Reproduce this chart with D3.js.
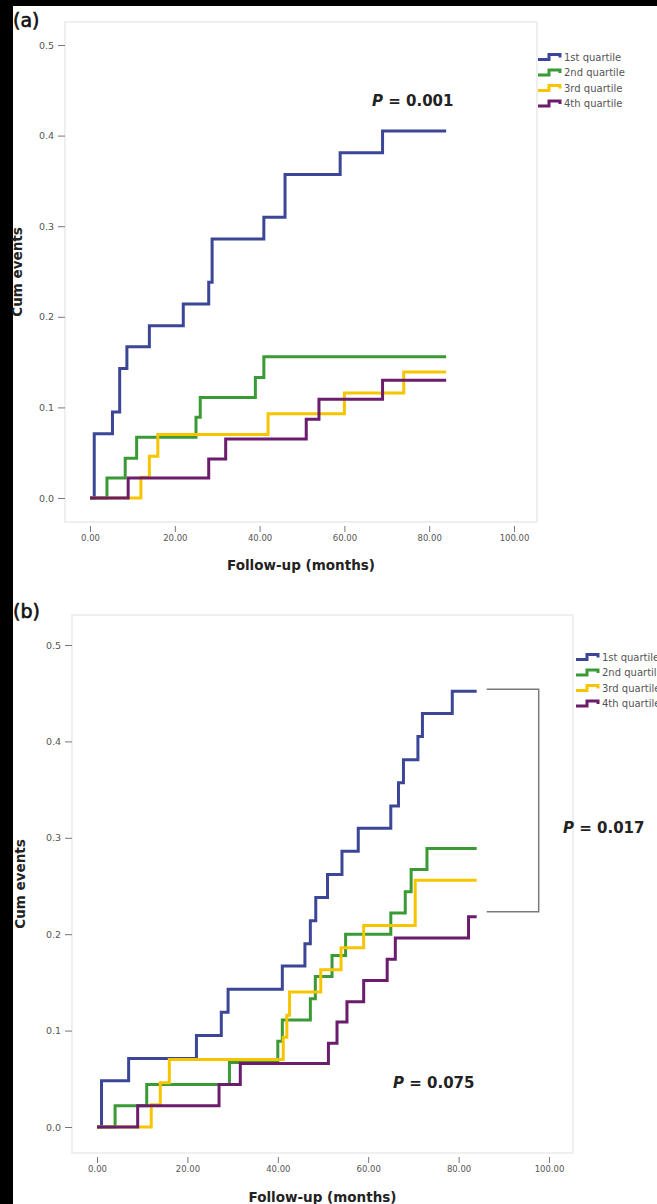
<!DOCTYPE html>
<html>
<head>
<meta charset="utf-8">
<script src="https://cdn.jsdelivr.net/npm/d3@7"></script>
<style>
  html, body { margin: 0; padding: 0; background: #000; }
  svg { display: block; }
  text { font-family: "DejaVu Sans", Verdana, sans-serif; }
</style>
</head>
<body>
<script>
// cumulative events, [month, value] at each step
var aQ1 = [[0,0],[1,0.071],[5.3,0.095],[7,0.143],[8.7,0.167],[14,0.190],[22,0.214],[28,0.238],[28.8,0.286],[41,0.310],[46,0.357],[59,0.381],[69,0.405],[84,0.405]];
var aQ2 = [[0,0],[4,0.022],[8.3,0.044],[11,0.067],[25,0.089],[26,0.111],[39,0.133],[41,0.156],[84,0.156]];
var aQ3 = [[0,0],[12,0.023],[14,0.046],[16,0.070],[42,0.093],[60,0.116],[74,0.139],[84,0.139]];
var aQ4 = [[0,0],[9,0.022],[28,0.043],[32,0.065],[51,0.087],[54,0.109],[69,0.130],[84,0.130]];

var bQ1 = [[0,0],[1,0.048],[7,0.071],[22,0.095],[27.5,0.119],[29,0.143],[41,0.167],[46,0.190],[47.2,0.214],[48.4,0.238],[51,0.262],[54.2,0.286],[57.8,0.310],[65,0.333],[66.7,0.357],[67.8,0.381],[71,0.405],[72,0.429],[78.6,0.452],[84,0.452]];
var bQ2 = [[0,0],[4,0.022],[11,0.044],[29.3,0.067],[40,0.089],[41,0.111],[47.2,0.133],[48.3,0.156],[52,0.178],[55,0.200],[65,0.222],[68.2,0.244],[69.5,0.267],[73,0.289],[84,0.289]];
var bQ3 = [[0,0],[12,0.023],[14,0.046],[16,0.070],[41.2,0.093],[42,0.116],[42.6,0.140],[49.5,0.163],[54,0.186],[59,0.209],[70.4,0.256],[84,0.256]];
var bQ4 = [[0,0],[9,0.022],[27,0.044],[31.7,0.066],[51.2,0.087],[53.1,0.109],[55.3,0.130],[59,0.152],[64.2,0.174],[66,0.196],[82.2,0.218],[84,0.218]];

var seriesNames = ["1st quartile", "2nd quartile", "3rd quartile", "4th quartile"];
var seriesColors = ["#3b4697", "#3a9a35", "#f6c500", "#6b1c6c"];
var xTicks = [0, 20, 40, 60, 80, 100];
var yTicks = [0, 0.1, 0.2, 0.3, 0.4, 0.5];

var W = 657, H = 1204;

var svg = d3.select("body").append("svg")
    .attr("width", W)
    .attr("height", H);

svg.append("rect").attr("width", W).attr("height", H).attr("fill", "#000");
svg.append("rect").attr("x", 13).attr("y", 6).attr("width", W - 13).attr("height", H - 6).attr("fill", "#fff");

function panel(opt) {
  var g = svg.append("g");
  var x = d3.scaleLinear().domain([0, 100]).range(opt.xr);
  var y = d3.scaleLinear().domain([0, 0.5]).range(opt.yr);

  // faint frame
  g.append("rect")
    .attr("x", opt.frame[0]).attr("y", opt.frame[1])
    .attr("width", opt.frame[2] - opt.frame[0])
    .attr("height", opt.frame[3] - opt.frame[1])
    .attr("fill", "none").attr("stroke", "#efefef").attr("stroke-width", 2);

  // panel letter
  g.append("text")
    .attr("x", 13).attr("y", opt.letterY)
    .attr("font-size", 19).attr("fill", "#111")
    .attr("stroke", "#111").attr("stroke-width", 0.6)
    .text(opt.letter);

  // y axis
  var ya = g.append("g")
    .attr("transform", "translate(" + opt.frame[0] + ",0)")
    .call(d3.axisLeft(y).tickValues(yTicks).tickFormat(d3.format(".1f")).tickSize(7).tickPadding(4));
  ya.select(".domain").remove();
  ya.selectAll("line").attr("stroke", "#777");
  ya.selectAll("text").attr("font-size", 9.5).attr("fill", "#555").attr("font-family", "DejaVu Sans");

  // x axis
  var xa = g.append("g")
    .attr("transform", "translate(0," + (opt.frame[3] + 4) + ")")
    .call(d3.axisBottom(x).tickValues(xTicks).tickFormat(d3.format(".2f")).tickSize(6).tickPadding(3));
  xa.select(".domain").remove();
  xa.selectAll("line").attr("stroke", "#777");
  xa.selectAll("text").attr("font-size", 8.5).attr("fill", "#555").attr("font-family", "DejaVu Sans");

  // axis titles
  var cx = (opt.frame[0] + opt.frame[2]) / 2;
  var cy = (opt.frame[1] + opt.frame[3]) / 2;
  g.append("text")
    .attr("x", cx).attr("y", opt.xTitleY)
    .attr("text-anchor", "middle")
    .attr("font-size", 13.5).attr("font-weight", "bold").attr("fill", "#222")
    .text("Follow-up (months)");
  g.append("text")
    .attr("transform", "translate(" + opt.yTitleX + "," + cy + ") rotate(-90)")
    .attr("text-anchor", "middle")
    .attr("font-size", 13.5).attr("font-weight", "bold").attr("fill", "#222")
    .text("Cum events");

  // step curves
  var line = d3.line()
    .x(function(d) { return x(d[0]); })
    .y(function(d) { return y(d[1]); })
    .curve(d3.curveStepAfter);

  g.selectAll("path.km")
    .data(opt.series)
    .enter().append("path")
      .attr("class", "km")
      .attr("d", line)
      .attr("fill", "none")
      .attr("stroke", function(d, i) { return seriesColors[i]; })
      .attr("stroke-width", 3);

  // legend
  var lg = g.append("g")
    .attr("transform", "translate(" + opt.legend[0] + "," + opt.legend[1] + ")");
  var row = lg.selectAll("g")
    .data(seriesNames)
    .enter().append("g")
      .attr("transform", function(d, i) { return "translate(0," + (i * 15.5) + ")"; });
  row.append("path")
    .attr("d", "M0,2.5H11V-2.5H22V0.5")
    .attr("fill", "none")
    .attr("stroke", function(d, i) { return seriesColors[i]; })
    .attr("stroke-width", 3);
  row.append("text")
    .attr("x", 26).attr("y", 3.5)
    .attr("font-size", 10).attr("fill", "#555")
    .text(function(d) { return d; });

  return { x: x, y: y, g: g };
}

function pText(g, px, py, val) {
  var t = g.append("text")
    .attr("x", px).attr("y", py)
    .attr("font-size", 15).attr("font-weight", "bold").attr("fill", "#222");
  t.append("tspan").attr("font-style", "italic").text("P");
  t.append("tspan").text(" = " + val);
}

var pa = panel({
  letter: "(a)", letterY: 27,
  frame: [65, 22, 537, 522],
  xr: [90, 514], yr: [498, 45],
  xTitleY: 570, yTitleX: 22,
  legend: [538, 57],
  series: [aQ1, aQ2, aQ3, aQ4]
});
pText(pa.g, 372, 106, "0.001");

var pb = panel({
  letter: "(b)", letterY: 618,
  frame: [72, 615, 573, 1153],
  xr: [97, 549], yr: [1127, 645],
  xTitleY: 1202, yTitleX: 25,
  legend: [576, 657],
  series: [bQ1, bQ2, bQ3, bQ4]
});

// bracket between 1st and 4th quartile ends
var endT = bQ1[bQ1.length - 1][0];
var bx0 = pb.x(endT) + 10, bx1 = pb.x(endT) + 62;
var by0 = pb.y(bQ1[bQ1.length - 1][1]) - 2;
var by1 = pb.y(bQ4[bQ4.length - 1][1]) - 5;
pb.g.append("path")
  .attr("d", "M" + bx0 + "," + by0 + "H" + bx1 + "V" + by1 + "H" + bx0)
  .attr("fill", "none").attr("stroke", "#7a7a7a").attr("stroke-width", 1.5);

pText(pb.g, 563, 833, "0.017");
pText(pb.g, 393, 1088, "0.075");
</script>
</body>
</html>
